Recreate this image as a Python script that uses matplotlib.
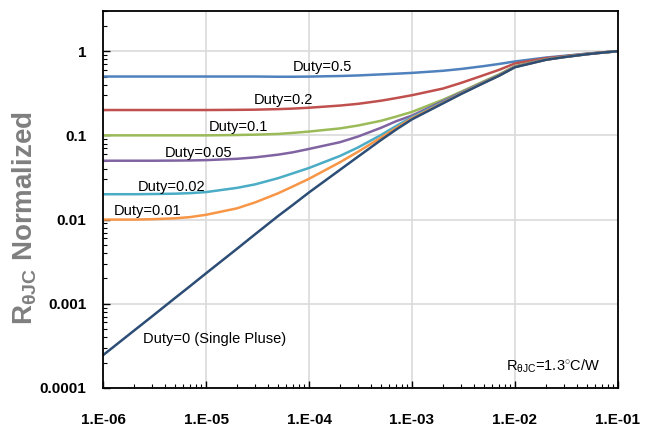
import numpy as np
import matplotlib
matplotlib.use("Agg")
import matplotlib.pyplot as plt
from matplotlib.ticker import LogLocator, NullFormatter

plt.rcParams['font.family'] = ['Liberation Sans', 'DejaVu Sans']
plt.rcParams['mathtext.fontset'] = 'custom'
plt.rcParams['mathtext.rm'] = 'Liberation Sans'
plt.rcParams['mathtext.it'] = 'Liberation Sans:italic'
plt.rcParams['mathtext.bf'] = 'Liberation Sans:bold'

# pulse width (s)
t = [1e-6, 2e-6, 3e-6, 5e-6, 7e-6,
     1e-5, 2e-5, 3e-5, 5e-5, 7e-5,
     1e-4, 2e-4, 3e-4, 5e-4, 7e-4,
     1e-3, 2e-3, 3e-3, 5e-3, 7e-3,
     1e-2, 2e-2, 3e-2, 5e-2, 7e-2,
     1e-1]

# normalized thermal impedance
duty_05 = [0.50, 0.50, 0.50, 0.50, 0.50,
           0.50, 0.50, 0.50, 0.497, 0.497,
           0.499, 0.507, 0.515, 0.53, 0.54,
           0.552, 0.585, 0.615, 0.665, 0.705,
           0.755, 0.84, 0.88, 0.935, 0.967,
           1.0]
duty_02 = [0.20, 0.20, 0.20, 0.20, 0.20,
           0.20, 0.201, 0.202, 0.205, 0.208,
           0.213, 0.226, 0.237, 0.258, 0.277,
           0.30, 0.36, 0.42, 0.52, 0.60,
           0.715, 0.825, 0.87, 0.93, 0.965,
           1.0]
duty_01 = [0.10, 0.10, 0.10, 0.10, 0.10,
           0.10, 0.101, 0.102, 0.104, 0.107,
           0.111, 0.121, 0.131, 0.149, 0.167,
           0.19, 0.265, 0.33, 0.44, 0.53,
           0.665, 0.80, 0.857, 0.924, 0.962,
           1.0]
duty_005 = [0.050, 0.050, 0.050, 0.0502, 0.0504,
            0.0508, 0.0527, 0.0548, 0.059, 0.063,
            0.069, 0.083, 0.097, 0.123, 0.147,
            0.172, 0.255, 0.322, 0.43, 0.52,
            0.655, 0.797, 0.855, 0.923, 0.962,
            1.0]
duty_002 = [0.0200, 0.0200, 0.0201, 0.0203, 0.0206,
            0.0212, 0.0238, 0.0262, 0.031, 0.0355,
            0.041, 0.057, 0.072, 0.101, 0.129,
            0.165, 0.247, 0.316, 0.425, 0.515,
            0.650, 0.794, 0.853, 0.922, 0.961,
            1.0]
duty_001 = [0.0100, 0.0100, 0.0101, 0.01035, 0.0107,
            0.0114, 0.0136, 0.016, 0.0205, 0.0248,
            0.0305, 0.048, 0.064, 0.094, 0.122,
            0.160, 0.243, 0.313, 0.423, 0.513,
            0.648, 0.792, 0.852, 0.921, 0.961,
            1.0]
single = [2.45e-4, 4.8e-4, 7.1e-4, 1.17e-3, 1.62e-3,
          2.3e-3, 4.5e-3, 6.7e-3, 1.1e-2, 1.5e-2,
          2.1e-2, 3.9e-2, 5.6e-2, 8.8e-2, 0.117,
          0.155, 0.24, 0.31, 0.42, 0.51,
          0.645, 0.79, 0.85, 0.92, 0.96,
          1.0]

xtick_vals = [1e-6, 1e-5, 1e-4, 1e-3, 1e-2, 1e-1]
xtick_labels = ["1.E-06", "1.E-05", "1.E-04", "1.E-03", "1.E-02", "1.E-01"]
ytick_vals = [1e-4, 1e-3, 1e-2, 1e-1, 1]
ytick_labels = ["0.0001", "0.001", "0.01", "0.1", "1"]

fig = plt.figure(figsize=(6.57, 4.28), dpi=100)
ax = fig.add_axes([0.1568, 0.0935, 0.7838, 0.8808])

lw = 1.8
ax.plot(t, duty_05, c="#4F81BD", lw=lw)
ax.plot(t, duty_02, c="#C0504D", lw=lw)
ax.plot(t, duty_01, c="#9BBB59", lw=lw)
ax.plot(t, duty_005, c="#8064A2", lw=lw)
ax.plot(t, duty_002, c="#4BACC6", lw=lw)
ax.plot(t, duty_001, c="#F79646", lw=lw)
ax.plot(t, single, c="#2C4D75", lw=lw)

ax.set_xscale("log")
ax.set_yscale("log")
ax.set_xlim(1e-6, 1e-1)
ax.set_ylim(1e-4, 3)

ax.set_xticks(xtick_vals)
ax.set_xticklabels(xtick_labels, fontsize=11, fontweight="bold")
ax.set_yticks(ytick_vals)
ax.set_yticklabels(ytick_labels, fontsize=11, fontweight="bold")
ax.xaxis.set_minor_locator(LogLocator(base=10, subs=np.arange(2, 10), numticks=20))
ax.yaxis.set_minor_locator(LogLocator(base=10, subs=np.arange(2, 10), numticks=20))
ax.xaxis.set_minor_formatter(NullFormatter())
ax.yaxis.set_minor_formatter(NullFormatter())
ax.tick_params(axis="x", which="major", direction="in", length=5, width=1, pad=18)
ax.tick_params(axis="y", which="major", direction="in", length=5, width=1, pad=12)
ax.tick_params(which="minor", direction="in", length=3, width=0.8)

ax.grid(True, which="major", color="#DADADA", lw=1.2)
ax.set_axisbelow(True)
for s in ax.spines.values():
    s.set_linewidth(1.3)
    s.set_color("black")

fs = 10.5
ax.text(7.0e-5, 0.643, "Duty=0.5", fontsize=fs, va="center")
ax.text(2.93e-5, 0.26, "Duty=0.2", fontsize=fs, va="center")
ax.text(1.07e-5, 0.125, "Duty=0.1", fontsize=fs, va="center")
ax.text(4.0e-6, 0.0614, "Duty=0.05", fontsize=fs, va="center")
ax.text(2.19e-6, 0.0242, "Duty=0.02", fontsize=fs, va="center")
ax.text(1.28e-6, 0.0126, "Duty=0.01", fontsize=fs, va="center")
ax.text(2.44e-6, 3.81e-4, "Duty=0 (Single Pluse)", fontsize=fs, va="center")
ax.text(8.18e-3, 1.82e-4, r"R$_{\mathregular{θJC}}$=1.3$^{\circ}$C/W", fontsize=fs, va="center")

fig.text(0.037, 0.49, r"R$_{\mathregular{θJC}}$ Normalized", rotation=90,
         fontsize=20, fontweight="bold", color="#7F7F7F", va="center", ha="center")

fig.savefig("out.png", dpi=100)
